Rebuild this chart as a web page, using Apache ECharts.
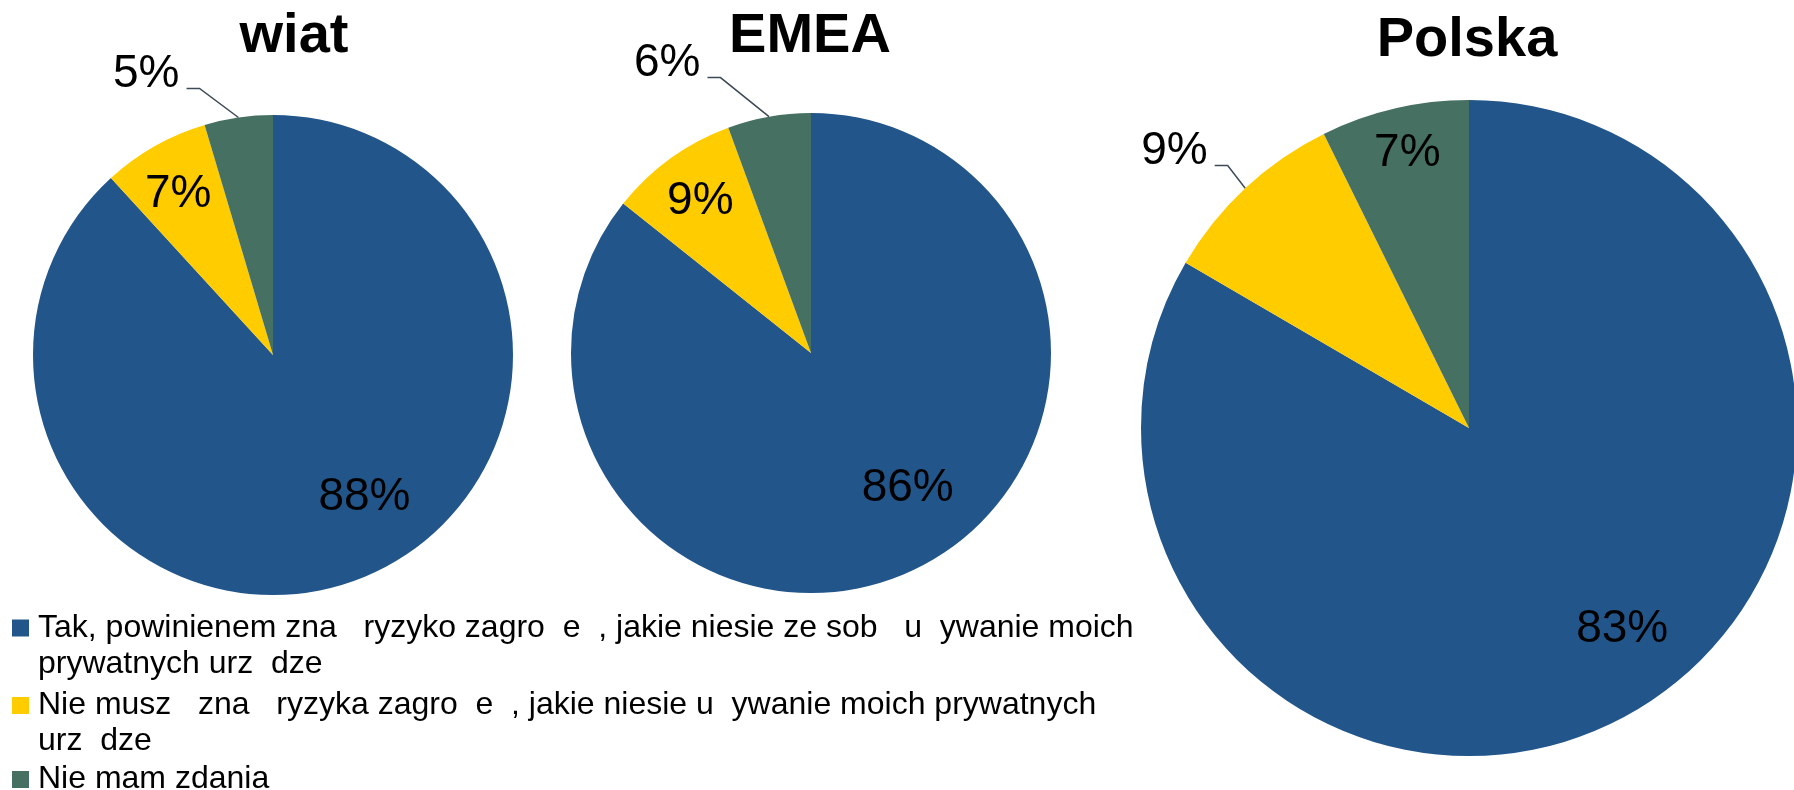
<!DOCTYPE html>
<html><head><meta charset="utf-8">
<script src="https://cdn.jsdelivr.net/npm/echarts@6/dist/echarts.min.js"></script>
<style>html,body{margin:0;padding:0;background:#fff}#c{width:1794px;height:790px}</style>
</head><body><div id="c"></div>
<script>
// ---- data ----
const titles = ['wiat', 'EMEA', 'Polska'];
const categories = [
  'Tak, powinienem zna   ryzyko zagro  e  , jakie niesie ze sob   u  ywanie moich\nprywatnych urz  dze',
  'Nie musz   zna   ryzyka zagro  e  , jakie niesie u  ywanie moich prywatnych\nurz  dze',
  'Nie mam zdania'
];
const swiatValues = [88.2, 7.2, 4.6];
const emeaValues = [85.7, 8.7, 5.6];
const polskaValues = [83.4, 9.3, 7.3];
const seriesValues = [swiatValues, emeaValues, polskaValues];

// ---- style / layout ----
const colors = ['#22568B', '#FFCC00', '#467062'];
const FONT = 'Liberation Sans, Arial, sans-serif';
const pies = [{cx: 273, cy: 355, r: 240}, {cx: 811, cy: 353, r: 240}, {cx: 1469, cy: 428, r: 328}];
const titlePos = [{x: 294, top: 9}, {x: 810, top: 9}, {x: 1467, top: 13}];
// label centres relative to pie centre, in radius units
const labelPos = [
  [[0.381, 0.594], [-0.395, -0.671], [-0.528, -1.169]],
  [[0.403, 0.565], [-0.461, -0.632], [-0.599, -1.206]],
  [[0.467, 0.613], [-0.898, -0.843], [-0.188, -0.836]]
];
const outsideLabel = [[false, false, true], [false, false, true], [false, true, false]];
const OUT_LH = 28;     // outer labels: leader line meets the lower part of the text
const OUT_PADR = 7;
const legendIconCenters = [628, 705.5, 779.5];
const LH = 36;

const chart = echarts.init(document.getElementById('c'), null, {renderer: 'canvas'});

const series = seriesValues.map((vals, s) => ({
  type: 'pie',
  center: [pies[s].cx, pies[s].cy],
  radius: pies[s].r,
  startAngle: 90,
  clockwise: true,
  avoidLabelOverlap: false,
  animation: false,
  emphasis: {disabled: true},
  itemStyle: {borderWidth: 0},
  label: {
    show: true,
    formatter: p => Math.round(p.value) + '%' + (outsideLabel[s][p.dataIndex] ? '\n' : ''),
    fontFamily: FONT,
    fontSize: 46,
    color: '#000'
  },
  labelLine: {show: false, length: 20, length2: 13, lineStyle: {color: '#3F4A57', width: 1.5}},
  labelLayout: function (params) {
    const d = params.dataIndex;
    const p = pies[s], pos = labelPos[s][d], out = outsideLabel[s][d];
    return {
      x: p.cx + pos[0] * p.r + (out ? OUT_PADR / 2 : 0),
      y: p.cy + pos[1] * p.r + (out ? OUT_LH / 2 : 0),
      align: 'center',
      verticalAlign: 'middle'
    };
  },
  data: vals.map((v, d) => {
    const out = outsideLabel[s][d];
    return {
      name: categories[d],
      value: v,
      itemStyle: {color: colors[d]},
      label: out ? {position: 'outside', lineHeight: OUT_LH, padding: [0, OUT_PADR, 0, 0], backgroundColor: 'rgba(255,255,255,0)'} : {position: 'inside'},
      labelLine: {show: out}
    };
  })
}));

const title = titles.map((t, i) => ({
  text: t,
  left: titlePos[i].x,
  top: titlePos[i].top,
  textAlign: 'center',
  padding: 0,
  textStyle: {fontFamily: FONT, fontSize: 56, fontWeight: 'bold', color: '#000'}
}));

const legend = categories.map((name, i) => {
  const lines = name.split('\n').length;
  const boxLines = lines > 1 ? lines + 1 : 1;   // leading blank line keeps the icon on the first line
  return {
    data: [{name: name, icon: 'rect'}],
    orient: 'vertical',
    left: 12,
    top: legendIconCenters[i] - LH * boxLines / 2,
    padding: 0,
    itemWidth: 17,
    itemHeight: 17,
    selectedMode: false,
    formatter: n => (n.indexOf('\n') >= 0 ? '\n' + n : n),
    textStyle: {
      fontFamily: FONT, fontSize: 32, color: '#000', lineHeight: LH,
      padding: [0, 0, 0, 4],
      backgroundColor: 'rgba(255,255,255,0)'
    }
  };
});

chart.setOption({
  animation: false,
  backgroundColor: '#fff',
  title: title,
  legend: legend,
  tooltip: {show: false},
  series: series
});
</script></body></html>
